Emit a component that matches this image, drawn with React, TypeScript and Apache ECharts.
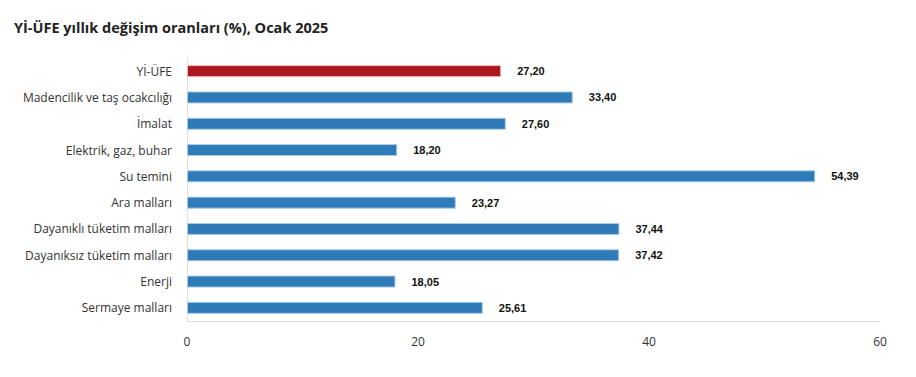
import React, { useEffect, useRef } from "react";
import * as echarts from "echarts";

const categories = [
  "Yİ-ÜFE",
  "Madencilik ve taş ocakcılığı",
  "İmalat",
  "Elektrik, gaz, buhar",
  "Su temini",
  "Ara malları",
  "Dayanıklı tüketim malları",
  "Dayanıksız tüketim malları",
  "Enerji",
  "Sermaye malları",
];
const values = [27.2, 33.4, 27.6, 18.2, 54.39, 23.27, 37.44, 37.42, 18.05, 25.61];
const xTicks = [0, 20, 40, 60];

const RED = "#AD1720";
const BLUE = "#2F7BB8";

export default function App() {
  const ref = useRef<HTMLDivElement>(null);
  useEffect(() => {
    const chart = echarts.init(ref.current!, null, { renderer: "svg" });
    chart.setOption({
      animation: false,
      title: {
        text: "Yİ-ÜFE yıllık değişim oranları (%), Ocak 2025",
        left: 1,
        top: 7,
        textStyle: {
          fontFamily: "Open Sans",
          fontSize: 14.5,
          fontWeight: "bold",
          color: "#222",
        },
      },
      grid: { left: 179, right: 28, top: 50, bottom: 48, containLabel: false },
      xAxis: {
        type: "value",
        min: xTicks[0],
        max: xTicks[xTicks.length - 1],
        interval: 20,
        axisLine: { show: true, lineStyle: { color: "#d8d8d8" } },
        axisTick: { show: false },
        splitLine: { show: false },
        axisLabel: {
          fontFamily: "Open Sans",
          fontSize: 12,
          color: "#333",
          margin: 14,
        },
      },
      yAxis: {
        type: "category",
        data: categories,
        inverse: true,
        axisLine: { show: true, lineStyle: { color: "#e0e0e0" } },
        axisTick: { show: false },
        axisLabel: {
          fontFamily: "Open Sans",
          fontSize: 12,
          color: "#333",
          margin: 15,
        },
      },
      series: [
        {
          type: "bar",
          barWidth: 12,
          data: values.map((v, i) => ({
            value: v,
            itemStyle: {
              color: i === 0 ? RED : BLUE,
              borderColor: i === 0 ? "#f2b8bb" : "#a9cbe6",
              borderWidth: 1,
            },
          })),
          label: {
            show: true,
            position: "right",
            distance: 16,
            fontFamily: "Liberation Sans",
            fontSize: 11,
            fontWeight: "bold",
            color: "#111",
            formatter: (p: any) => p.value.toFixed(2).replace(".", ","),
          },
        },
      ],
    });
    return () => chart.dispose();
  }, []);
  return <div ref={ref} style={{ width: 900, height: 361 }} />;
}
